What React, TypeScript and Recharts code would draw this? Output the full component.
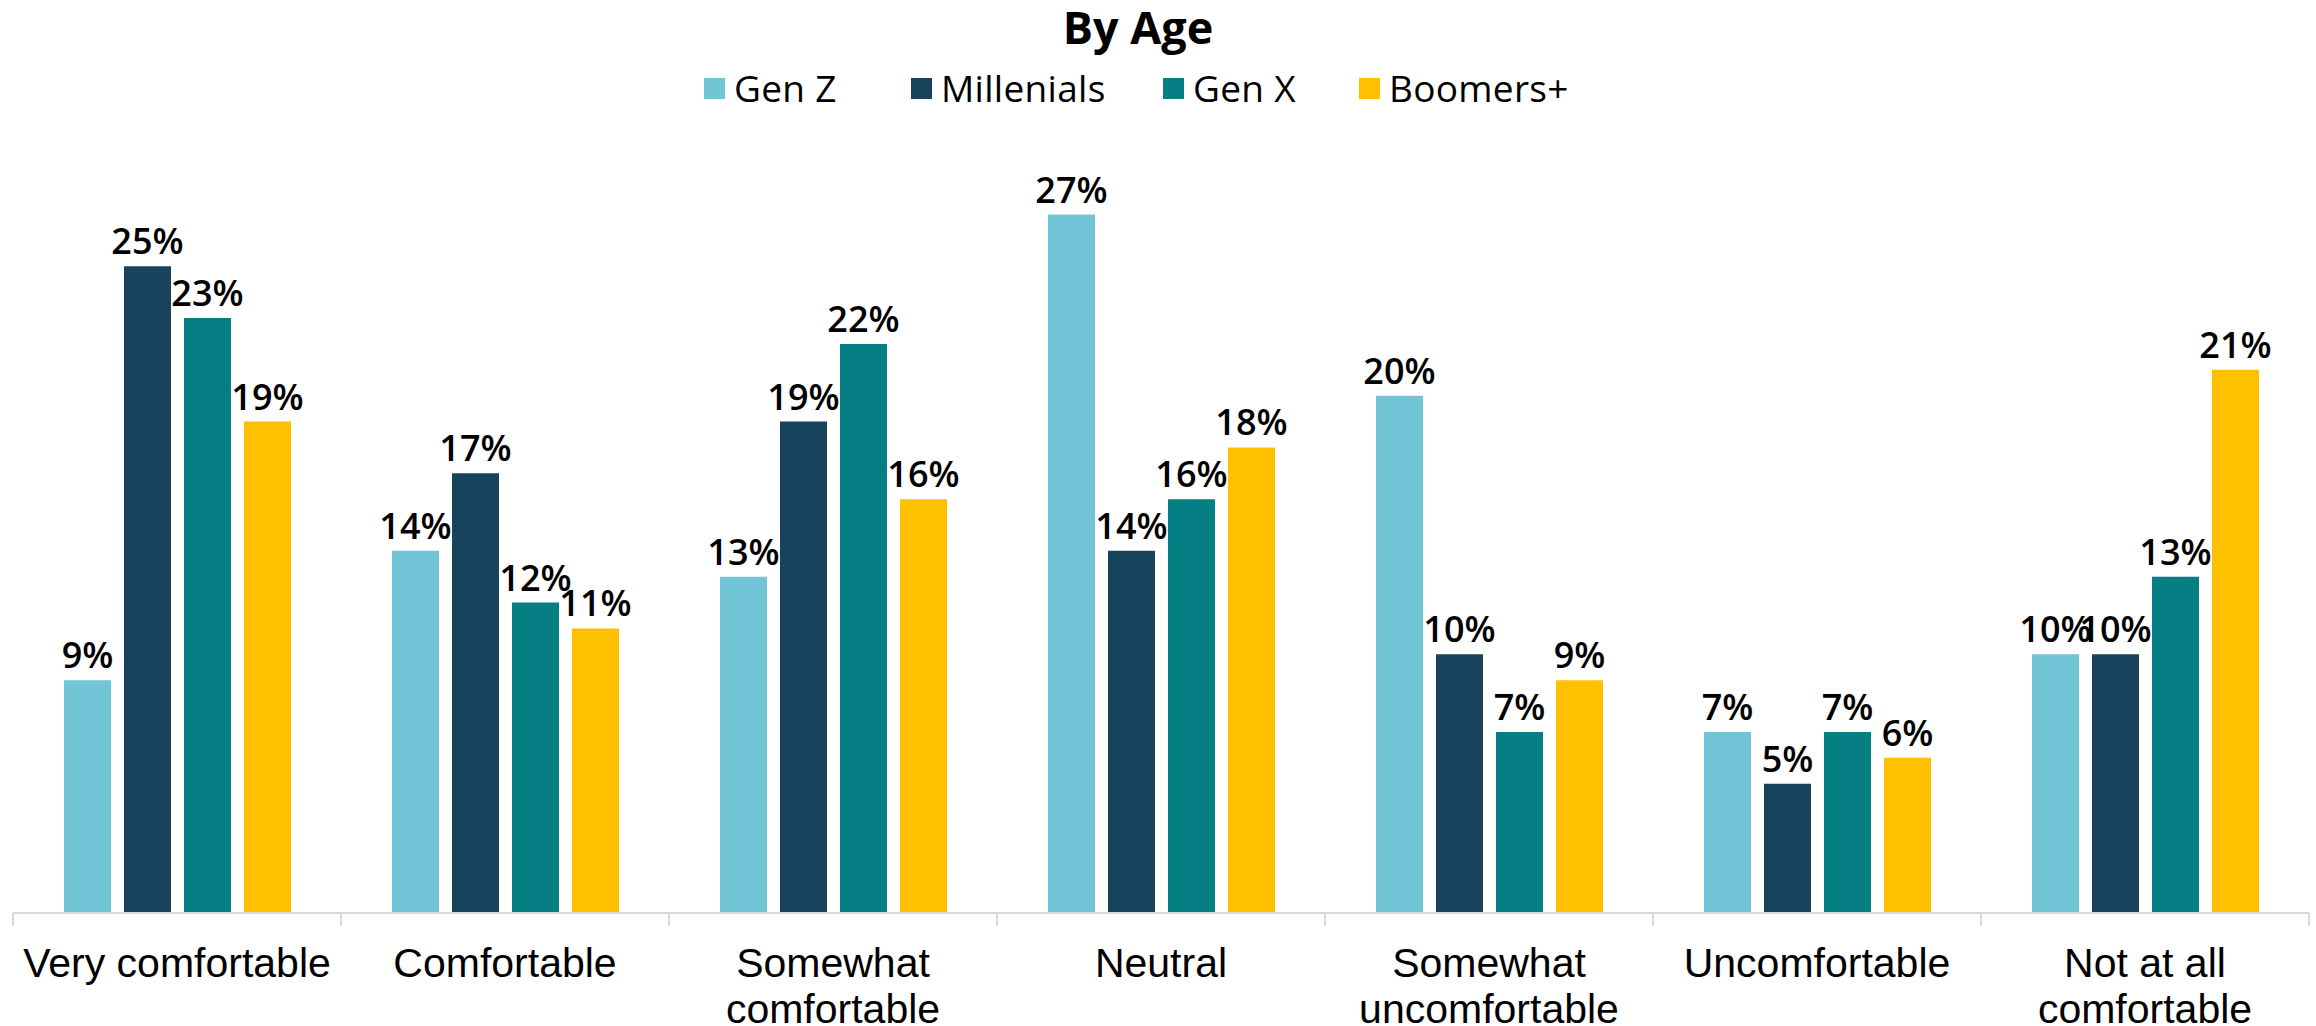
import { BarChart, Bar, XAxis, YAxis, LabelList } from "recharts";

const categories = [
  "Very comfortable",
  "Comfortable",
  "Somewhat comfortable",
  "Neutral",
  "Somewhat uncomfortable",
  "Uncomfortable",
  "Not at all comfortable",
];

const genZ = [9, 14, 13, 27, 20, 7, 10];
const millenials = [25, 17, 19, 14, 10, 5, 10];
const genX = [23, 12, 22, 16, 7, 7, 13];
const boomers = [19, 11, 16, 18, 9, 6, 21];

const seriesNames = ["Gen Z", "Millenials", "Gen X", "Boomers+"];
const seriesColors = ["#71c5d6", "#17445c", "#057f83", "#ffc000"];
const seriesKeys = ["genZ", "millenials", "genX", "boomers"];

const data = categories.map((name, i) => ({
  name,
  genZ: genZ[i],
  millenials: millenials[i],
  genX: genX[i],
  boomers: boomers[i],
}));

const W = 2316;
const H = 1026;
const MARGIN = { top: 137, right: 7, left: 13, bottom: 0 };
const AXIS_H = 113;
const band = (W - MARGIN.left - MARGIN.right) / categories.length;
// legend item left edges
const legendLeft = [704, 911, 1163, 1359];

const splitLabel = (s: string) => {
  if (s.length <= 16) return [s];
  const i = s.lastIndexOf(" ");
  return [s.slice(0, i), s.slice(i + 1)];
};

const CategoryTick = ({ x, y, payload, index }: any) => {
  const lines = splitLabel(String(payload.value));
  return (
    <g>
      <line x1={x - band / 2} x2={x - band / 2} y1={y} y2={y + 13} stroke="#d9d9d9" strokeWidth={2} />
      {index === categories.length - 1 && (
        <line x1={x + band / 2} x2={x + band / 2} y1={y} y2={y + 13} stroke="#d9d9d9" strokeWidth={2} />
      )}
      <text
        x={x}
        y={y + 64}
        textAnchor="middle"
        fill="#000"
        style={{ fontFamily: "'Liberation Sans', Arial, sans-serif", fontSize: 41 }}
      >
        {lines.map((l, k) => (
          <tspan key={k} x={x} dy={k === 0 ? 0 : 46}>
            {l}
          </tspan>
        ))}
      </text>
    </g>
  );
};

const pct = (v: any) => `${v}%`;

export default function App() {
  return (
    <div style={{ position: "absolute", left: 0, top: 0, width: W, height: H, background: "#fff" }}>
      <div
        style={{
          position: "absolute",
          left: 0,
          top: 2,
          width: 2276,
          textAlign: "center",
          fontFamily: "'Open Sans', sans-serif",
          fontWeight: 700,
          fontSize: 45,
          lineHeight: "50px",
        }}
      >
        By Age
      </div>
      {seriesNames.map((n, i) => (
        <div
          key={n}
          style={{
            position: "absolute",
            left: legendLeft[i],
            top: 66,
            display: "flex",
            alignItems: "center",
            fontFamily: "'Open Sans', sans-serif",
            fontSize: 37,
            letterSpacing: 0.3,
            lineHeight: "44px",
            whiteSpace: "nowrap",
          }}
        >
          <span style={{ width: 21, height: 21, background: seriesColors[i], marginRight: 9 }} />
          <span>{n}</span>
        </div>
      ))}
      <BarChart width={W} height={H} data={data} margin={MARGIN} barSize={47} barGap={13}>
        <YAxis hide domain={[0, 30]} />
        <XAxis
          dataKey="name"
          height={AXIS_H}
          axisLine={{ stroke: "#d9d9d9", strokeWidth: 2 }}
          tickLine={false}
          tickSize={0}
          tickMargin={0}
          interval={0}
          tick={<CategoryTick />}
        />
        {seriesKeys.map((k, i) => (
          <Bar key={k} dataKey={k} name={seriesNames[i]} fill={seriesColors[i]} isAnimationActive={false}>
            <LabelList
              dataKey={k}
              position="top"
              offset={12}
              formatter={pct}
              style={{ fontFamily: "'Open Sans', sans-serif", fontWeight: 600, fontSize: 36, fill: "#000" }}
            />
          </Bar>
        ))}
      </BarChart>
    </div>
  );
}
